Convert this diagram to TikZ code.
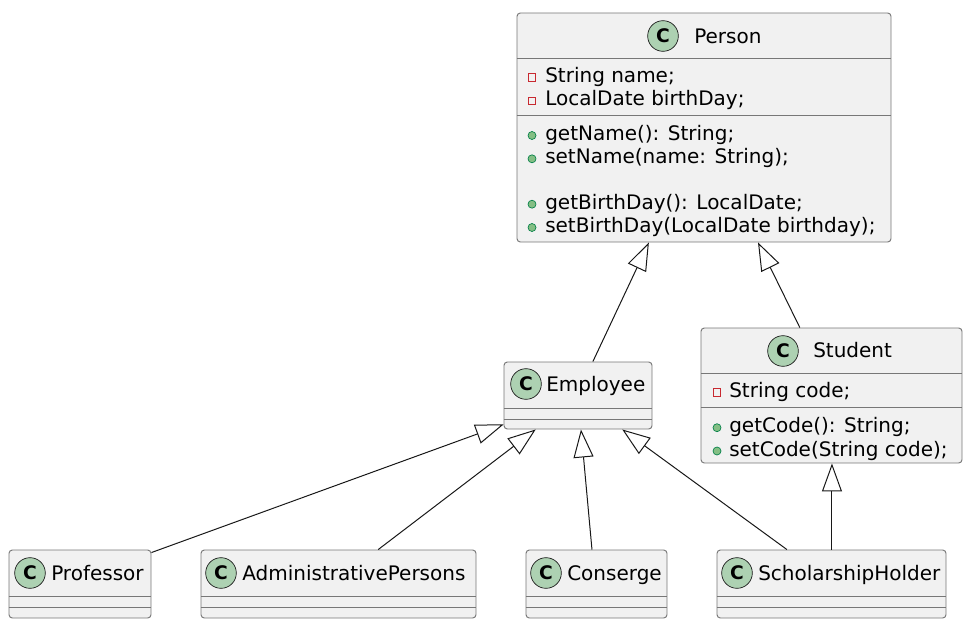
\documentclass[tikz,border=0pt]{standalone}
\usepackage{fontspec}
\setmainfont{DejaVu Sans}
\usetikzlibrary{arrows.meta,calc,fit}
\definecolor{boxfill}{HTML}{F1F1F1}
\definecolor{boxline}{HTML}{777777}
\definecolor{cfill}{HTML}{ADD1B2}
\definecolor{ink}{HTML}{181818}
\definecolor{privred}{HTML}{C82930}
\definecolor{pubfill}{HTML}{84BE84}
\definecolor{publine}{HTML}{038048}
\tikzset{
 cls/.style={draw=boxline, fill=boxfill, line width=0.7pt, rounded corners=2.5pt, inner sep=0pt},
 sepline/.style={draw=boxline, line width=0.7pt},
 cicon/.style={circle, draw=ink, fill=cfill, line width=0.5pt, minimum size=23pt, inner sep=0pt, font=\fontsize{14}{14}\selectfont\bfseries},
 title/.style={anchor=base west, inner sep=0pt, font=\fontsize{15}{18}\selectfont},
 member/.style={anchor=base west, inner sep=0pt, font=\fontsize{15}{18}\selectfont},
 priv/.style={rectangle, draw=privred, line width=0.6pt, minimum size=5.5pt, inner sep=0pt},
 pub/.style={circle, draw=publine, fill=pubfill, line width=0.5pt, minimum size=6pt, inner sep=0pt},
 inh/.style={draw=ink, line width=0.75pt, -{Triangle[open, length=21pt, width=15pt, line width=0.75pt]}},
}
\begin{document}
\begin{tikzpicture}[x=0.75pt,y=-0.75pt]
\useasboundingbox (0,0) rectangle (970,631);

% class boxes
\node[cls, fit={(517,13)(891,242)}] (person) {};
\node[cls, fit={(701,328)(962,463)}] (student) {};
\node[cls, fit={(504,362)(652,429)}] (employee) {};
\node[cls, fit={(9,550)(151,618)}] (professor) {};
\node[cls, fit={(201,550)(476,618)}] (admin) {};
\node[cls, fit={(526,550)(667,618)}] (conserge) {};
\node[cls, fit={(717,550)(946,618)}] (scholar) {};

% separators
\draw[sepline] (person.west |- 0,58) -- (person.east |- 0,58);
\draw[sepline] (person.west |- 0,115) -- (person.east |- 0,115);
\draw[sepline] (student.west |- 0,373) -- (student.east |- 0,373);
\draw[sepline] (student.west |- 0,407) -- (student.east |- 0,407);
\draw[sepline] (employee.west |- 0,408) -- (employee.east |- 0,408);
\draw[sepline] (employee.west |- 0,419) -- (employee.east |- 0,419);
\foreach \b in {professor,admin,conserge,scholar}{
  \draw[sepline] (\b.west |- 0,596) -- (\b.east |- 0,596);
  \draw[sepline] (\b.west |- 0,607) -- (\b.east |- 0,607);
}

% headers
\node[cicon] (personC) at (663,36) {C};
\node[title] (personT) at (694,43.3) {Person};
\node[cicon] (employeeC) at (526,384) {C};
\node[title] (employeeT) at (546,391.7) {Employee};
\node[cicon] (studentC) at (783,351) {C};
\node[title] (studentT) at (813,357.3) {Student};
\node[cicon] (professorC) at (30,573) {C};
\node[title] (professorT) at (51,580) {Professor};
\node[cicon] (adminC) at (221,573) {C};
\node[title] (adminT) at (242,580) {AdministrativePersons};
\node[cicon] (consergeC) at (546,573) {C};
\node[title] (consergeT) at (567,580) {Conserge};
\node[cicon] (scholarC) at (737,573) {C};
\node[title] (scholarT) at (758,580) {ScholarshipHolder};

% Person members
\node[priv] (pi1) at (532,77.5) {};
\node[member] (pm1) at (545,82.5) {String name;};
\node[priv] (pi2) at (532,100.8) {};
\node[member] (pm2) at (545,105.8) {LocalDate birthDay;};
\node[pub] (pi3) at (532,135.5) {};
\node[member] (pm3) at (545,140.5) {getName(): String;};
\node[pub] (pi4) at (532,158.8) {};
\node[member] (pm4) at (545,163.8) {setName(name: String);};
\node[pub] (pi5) at (532,204.2) {};
\node[member] (pm5) at (545,209.2) {getBirthDay(): LocalDate;};
\node[pub] (pi6) at (532,227.5) {};
\node[member] (pm6) at (545,232.5) {setBirthDay(LocalDate birthday);};

% Student members
\node[priv] (si1) at (717,392.3) {};
\node[member] (sm1) at (729,397.3) {String code;};
\node[pub] (si2) at (717,427.7) {};
\node[member] (sm2) at (729,432.7) {getCode(): String;};
\node[pub] (si3) at (717,451) {};
\node[member] (sm3) at (729,456) {setCode(String code);};

% inheritance
\draw[inh] ($(employee.north west)!0.60!(employee.north east)$) -- ($(person.south west)!0.353!(person.south east)$);
\draw[inh] ($(student.north west)!0.379!(student.north east)$) -- ($(person.south west)!0.644!(person.south east)$);
\draw[inh] ($(professor.north east)+(0,3)$) -- ($(employee.south west)+(0,-5)$);
\draw[inh] ($(admin.north west)!0.644!(admin.north east)$) -- ($(employee.south west)!0.216!(employee.south east)$);
\draw[inh] ($(conserge.north west)!0.468!(conserge.north east)$) -- ($(employee.south west)!0.52!(employee.south east)$);
\draw[inh] ($(scholar.north west)!0.306!(scholar.north east)$) -- ($(employee.south west)!0.797!(employee.south east)$);
\coordinate (sh) at ($(scholar.north west)!0.502!(scholar.north east)$);
\draw[inh] (sh) -- (sh |- student.south);
\end{tikzpicture}
\end{document}
